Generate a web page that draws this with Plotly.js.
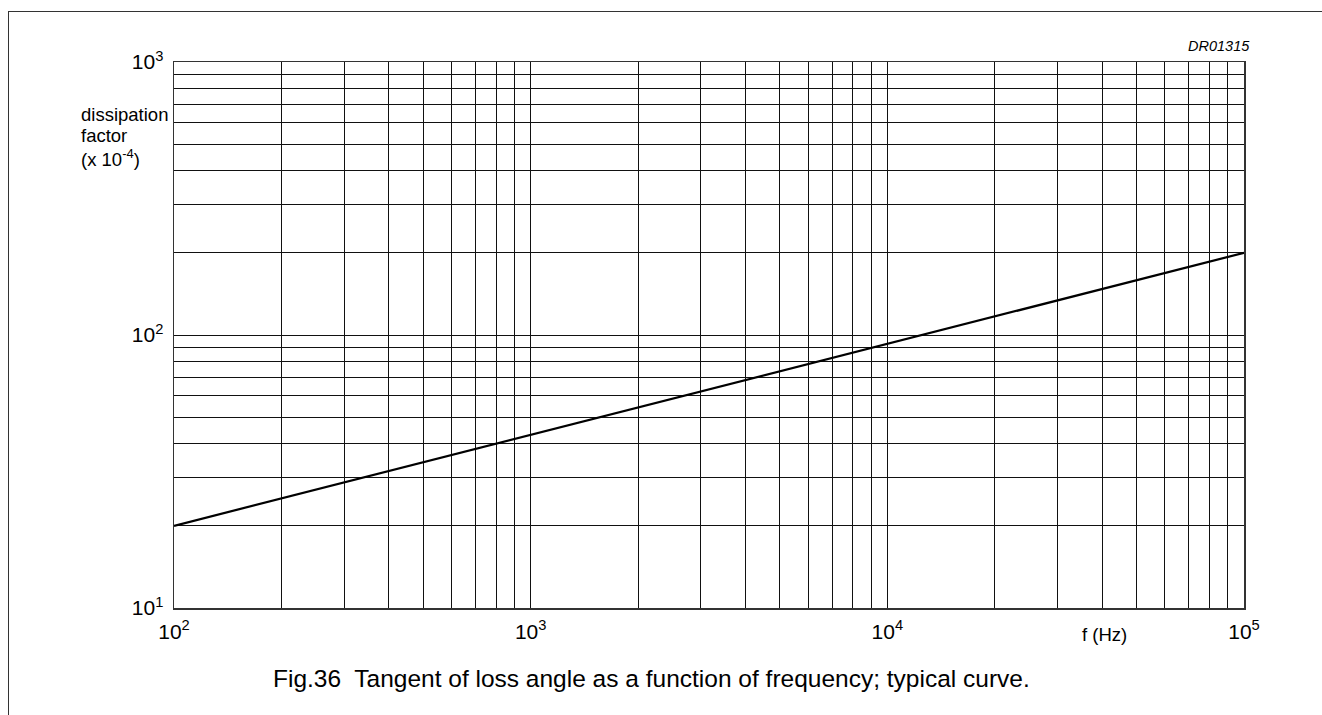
<!DOCTYPE html>
<html>
<head>
<meta charset="utf-8">
<script src="https://cdn.plot.ly/plotly-3.0.1.min.js"></script>
<style>
  html, body { margin: 0; padding: 0; background: #fff; }
  #wrap { position: relative; width: 1322px; height: 715px; overflow: hidden; }
  #frame { position: absolute; left: 8px; top: 11px; width: 1400px; height: 800px;
           border-left: 1.5px solid #333; border-top: 1.5px solid #333; pointer-events: none; }
  #chart { position: absolute; left: 0; top: 0; width: 1322px; height: 715px; }
</style>
</head>
<body>
<div id="wrap">
  <div id="chart"></div>
  <div id="frame"></div>
</div>
<script>
// Data
const frequencyHz = [100, 1000, 10000, 100000];
const dissipationFactor = [20, 43, 93, 200];

// Major ticks (decades) and labels
const xTickVals = [100, 1000, 10000, 100000];
const xTickText = ['10<sup>2</sup>', '10<sup>3</sup>', '10<sup>4</sup>', '10<sup>5</sup>'];
const yTickVals = [10, 100, 1000];
const yTickText = ['10<sup>1</sup>', '10<sup>2</sup>', '10<sup>3</sup>'];

// Minor grid values (2..9 within each decade)
const xMinorVals = [];
for (let d = 2; d <= 4; d++) for (let m = 2; m <= 9; m++) xMinorVals.push(m * Math.pow(10, d));
const yMinorVals = [];
for (let d = 1; d <= 2; d++) for (let m = 2; m <= 9; m++) yMinorVals.push(m * Math.pow(10, d));

const font = 'Liberation Sans, Arial, sans-serif';

const trace = {
  x: frequencyHz,
  y: dissipationFactor,
  type: 'scatter',
  mode: 'lines',
  line: { color: '#000', width: 2.2 },
  hoverinfo: 'skip'
};

const axisCommon = {
  type: 'log',
  tickmode: 'array',
  showgrid: true,
  gridcolor: '#111',
  gridwidth: 1,
  showline: true,
  linecolor: '#333',
  linewidth: 1.5,
  mirror: true,
  ticks: '',
  zeroline: false,
  tickfont: { family: font, size: 21, color: '#000' }
};

const annFont = { family: font, size: 18.5, color: '#000' };

const layout = {
  width: 1322,
  height: 715,
  margin: { l: 174, r: 78, t: 62, b: 107, pad: 0 },
  paper_bgcolor: '#fff',
  plot_bgcolor: '#fff',
  showlegend: false,
  xaxis: Object.assign({}, axisCommon, {
    range: [2, 5],
    tickvals: xTickVals,
    ticktext: xTickText,
    ticklabelstandoff: 4,
    minor: { tickmode: 'array', tickvals: xMinorVals, showgrid: true, gridcolor: '#111', gridwidth: 1, ticks: '' }
  }),
  yaxis: Object.assign({}, axisCommon, {
    range: [1, 3],
    tickvals: yTickVals,
    ticktext: yTickText,
    ticklabelstandoff: 5,
    minor: { tickmode: 'array', tickvals: yMinorVals, showgrid: true, gridcolor: '#111', gridwidth: 1, ticks: '' }
  }),
  annotations: [
    {
      text: 'dissipation',
      xref: 'paper', yref: 'paper',
      x: -0.0885, y: 0.903,
      xanchor: 'left', yanchor: 'middle', align: 'left',
      showarrow: false, font: annFont
    },
    {
      text: 'factor',
      xref: 'paper', yref: 'paper',
      x: -0.0885, y: 0.865,
      xanchor: 'left', yanchor: 'middle', align: 'left',
      showarrow: false, font: annFont
    },
    {
      text: '(x 10<sup>-4</sup>)',
      xref: 'paper', yref: 'paper',
      x: -0.0885, y: 0.824,
      xanchor: 'left', yanchor: 'middle', align: 'left',
      showarrow: false, font: annFont
    },
    {
      text: 'f (Hz)',
      xref: 'paper', yref: 'paper',
      x: 0.87, y: -0.048,
      xanchor: 'center', yanchor: 'middle',
      showarrow: false, font: annFont
    },
    {
      text: '<i>DR01315</i>',
      xref: 'paper', yref: 'paper',
      x: 1.0075, y: 1.029,
      xanchor: 'right', yanchor: 'middle',
      showarrow: false,
      font: { family: font, size: 14.5, color: '#000' }
    },
    {
      text: 'Fig.36  Tangent of loss angle as a function of frequency; typical curve.',
      xref: 'paper', yref: 'paper',
      x: 0.446, y: -0.13,
      xanchor: 'center', yanchor: 'middle',
      showarrow: false,
      font: { family: font, size: 24.5, color: '#000' }
    }
  ]
};

Plotly.newPlot('chart', [trace], layout, { staticPlot: true, displayModeBar: false });
</script>
</body>
</html>
